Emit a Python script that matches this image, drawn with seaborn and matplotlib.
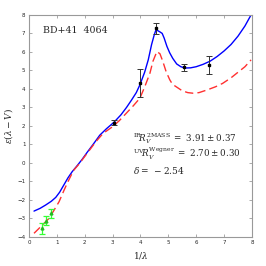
import matplotlib
matplotlib.use("Agg")
import matplotlib.pyplot as plt
import seaborn as sns
import pandas as pd

# Blue model curve
blue_x = [0.18, 0.4, 0.6, 0.8, 0.96, 1.1, 1.25, 1.4, 1.55, 1.7, 1.9, 2.1, 2.3, 2.54, 2.78,
          3.05, 3.3, 3.5, 3.68, 3.85, 3.98, 4.15, 4.28, 4.4, 4.5, 4.56, 4.62, 4.7, 4.78,
          4.85, 4.95, 5.05, 5.16, 5.3, 5.45, 5.6, 5.8, 6.0, 6.25, 6.5, 6.75, 7.0, 7.25,
          7.5, 7.75, 7.97]
blue_y = [-2.6, -2.45, -2.27, -2.07, -1.86, -1.58, -1.19, -0.8, -0.47, -0.2, 0.18, 0.6, 1.0,
          1.5, 1.85, 2.2, 2.6, 3.0, 3.4, 3.8, 4.22, 4.9, 5.57, 6.4, 6.95, 7.2, 7.15, 7.08, 7.0,
          6.75, 6.3, 5.95, 5.65, 5.35, 5.2, 5.13, 5.14, 5.2, 5.33, 5.5, 5.75, 6.05, 6.4,
          6.85, 7.4, 8.0]

# Red dashed curve
red_x = [0.18, 0.45, 0.72, 0.9, 1.08, 1.25, 1.37, 1.5, 1.61, 1.8, 2.0, 2.2, 2.4, 2.66, 3.02,
         3.25, 3.5, 3.75, 3.98, 4.15, 4.34, 4.45, 4.59, 4.7, 4.8, 4.92, 5.05, 5.15, 5.28,
         5.5, 5.7, 5.88, 6.1, 6.4, 6.7, 6.95, 7.25, 7.5, 7.75, 7.97]
red_y = [-3.8, -3.4, -2.99, -2.55, -2.09, -1.5, -1.1, -0.7, -0.38, -0.05, 0.35, 0.75, 1.15,
         1.6, 1.98, 2.3, 2.7, 3.1, 3.5, 4.1, 4.85, 5.5, 6.02, 5.9, 5.5, 4.94, 4.5, 4.25, 4.12,
         3.9, 3.8, 3.77, 3.8, 3.95, 4.12, 4.3, 4.6, 4.9, 5.2, 5.57]

# UV observations (black)
uv_x = [3.05, 4.0, 4.55, 5.56, 6.46]
uv_y = [2.18, 4.31, 7.28, 5.17, 5.3]
uv_err = [0.15, 0.75, 0.3, 0.2, 0.47]

# IR observations (green)
ir_x = [0.455, 0.61, 0.79]
ir_y = [-3.53, -3.12, -2.72]
ir_err = [0.3, 0.25, 0.25]

sns.set_style("ticks")
plt.rcParams['font.family'] = ['DejaVu Serif', 'DejaVu Sans']
plt.rcParams['mathtext.fontset'] = 'dejavuserif'

fig = plt.figure(figsize=(2.66, 2.66), dpi=100)
ax = fig.add_axes([0.109, 0.109, 0.838, 0.835])

df_b = pd.DataFrame({"x": blue_x, "y": blue_y})
df_r = pd.DataFrame({"x": red_x, "y": red_y})
sns.lineplot(data=df_b, x="x", y="y", ax=ax, color="#0000ff", lw=1.0, sort=False)
sns.lineplot(data=df_r, x="x", y="y", ax=ax, color="#ff3030", lw=1.0, sort=False,
             linestyle=(0, (6, 3)))
for ln in ax.lines:
    ln.set_solid_joinstyle("round")
    ln.set_dash_joinstyle("round")

ax.errorbar(uv_x, uv_y, yerr=uv_err, fmt="s", ms=1.8, color="black", ecolor="#333333",
            elinewidth=0.7, capsize=2, capthick=0.7, zorder=5)
ax.errorbar(ir_x, ir_y, yerr=ir_err, fmt="^", ms=2.0, color="#22bb22", ecolor="#33ff33",
            elinewidth=0.9, capsize=2, capthick=0.9, zorder=5)

ax.set_xlim(0, 8)
ax.set_ylim(-4, 8)
ax.set_xticks(range(0, 9))
ax.set_yticks(range(-4, 9))
ax.tick_params(direction="in", top=True, right=True, length=2.5, width=0.5,
               labelsize=4, color="#888888", pad=2.5)
for lab in ax.get_xticklabels() + ax.get_yticklabels():
    lab.set_family("DejaVu Sans")
for s in ax.spines.values():
    s.set_color("#999999")
    s.set_linewidth(0.8)

ax.set_xlabel(r"1/$\lambda$", fontsize=6.5, labelpad=3)
ax.set_ylabel(r"$\epsilon(\lambda-V)$", fontsize=6.5, labelpad=2)

ax.text(0.5, 7.15, "BD+41  4064", fontsize=6.8, va="center", ha="left")
ax.text(3.73, 1.3, r"$^{\rm IR}\!R_V^{\rm 2MASS}\ =\ 3.91\pm0.37$", fontsize=6.3, va="center")
ax.text(3.73, 0.49, r"$^{\rm UV}\!R_V^{\rm Wegner}\ =\ 2.70\pm0.30$", fontsize=6.3, va="center")
ax.text(3.73, -0.43, r"$\delta=\ -2.54$", fontsize=6.5, va="center")

fig.savefig("out.png", dpi=100)
